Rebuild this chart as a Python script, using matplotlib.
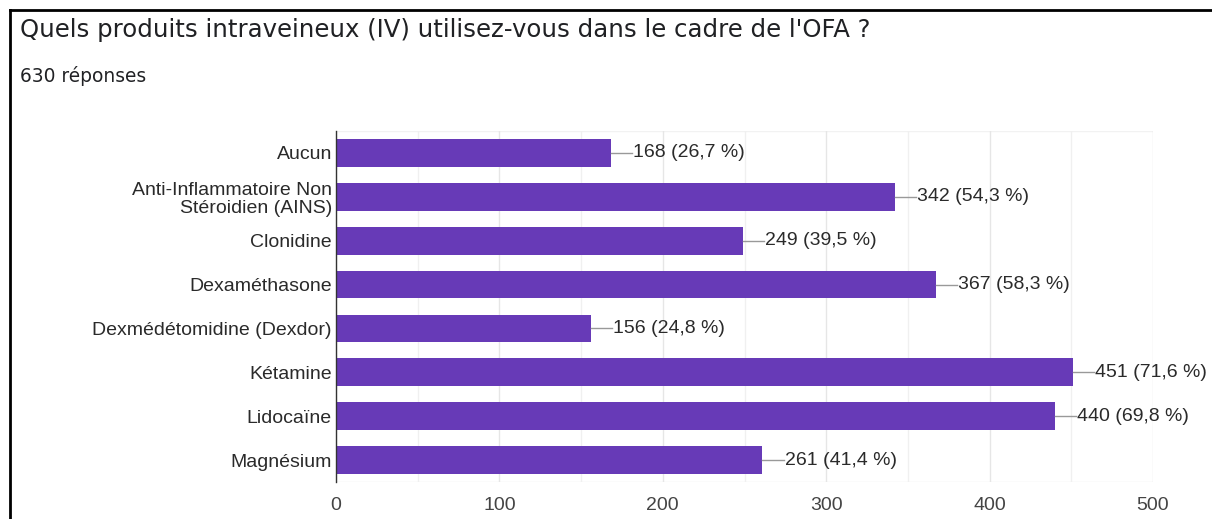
import matplotlib
matplotlib.use("Agg")
import matplotlib.pyplot as plt
import numpy as np

categories = ["Aucun", "Anti-Inflammatoire Non\nStéroidien (AINS)", "Clonidine", "Dexaméthasone",
              "Dexmédétomidine (Dexdor)", "Kétamine", "Lidocaïne", "Magnésium"]
counts = [168, 342, 249, 367, 156, 451, 440, 261]
percents = ["26,7", "54,3", "39,5", "58,3", "24,8", "71,6", "69,8", "41,4"]
xticks = [0, 100, 200, 300, 400, 500]

FS = 14
fig = plt.figure(figsize=(12.12, 5.19), dpi=100)
ax = fig.add_axes([336/1212, 1-482/519, (1153-336)/1212, (482-131)/519])

y = np.arange(len(categories))
ax.barh(y, counts, height=0.63, color="#673ab7", zorder=3)
for yi, c, p in zip(y, counts, percents):
    ax.plot([c, c + 13], [yi, yi], color="#999999", lw=1, zorder=3)
    ax.text(c + 13.5, yi, f"{c} ({p} %)", va="center", ha="left", fontsize=FS,
            color="#2a2a2a", family="Liberation Sans")

ax.set_xlim(0, 500)
ax.set_ylim(len(categories) - 0.5, -0.5)
ax.set_yticks(y)
ax.set_yticklabels(categories, fontsize=FS, color="#2a2a2a", family="Liberation Sans")
for lbl in ax.get_yticklabels():
    lbl.set_linespacing(1.12)
ax.set_xticks(xticks)
ax.set_xticklabels([str(t) for t in xticks], fontsize=FS, color="#444444", family="Liberation Sans")
ax.set_xticks(np.arange(50, 500, 100), minor=True)
ax.tick_params(axis="both", length=0, which="both")
ax.tick_params(axis="x", pad=11)
ax.tick_params(axis="y", pad=3)
ax.grid(axis="x", which="major", color="#e6e6e6", lw=1, zorder=0)
ax.grid(axis="x", which="minor", color="#f0f0f0", lw=1, zorder=0)
for s in ["top", "right", "bottom"]:
    ax.spines[s].set_visible(False)
ax.axhline(len(categories) - 0.5, color="#eeeeee", lw=1, zorder=0)
ax.axhline(-0.5, color="#f2f2f2", lw=1, zorder=0)
ax.spines["left"].set_color("#333333")
ax.spines["left"].set_linewidth(1)
ax.spines["left"].set_zorder(4)

fig.text(20/1212, 1-30/519, "Quels produits intraveineux (IV) utilisez-vous dans le cadre de l'OFA ?",
         fontsize=17.6, color="#202124", family="DejaVu Sans", va="center", ha="left")
fig.text(20/1212, 1-76/519, "630 réponses", fontsize=13.4, color="#202124",
         family="DejaVu Sans", va="center", ha="left")

# frame lines (top and left)
fig.add_artist(plt.Line2D([10/1212, 1], [1-10/519, 1-10/519], color="black", lw=2, transform=fig.transFigure))
fig.add_artist(plt.Line2D([10/1212, 10/1212], [0, 1-10/519], color="black", lw=2, transform=fig.transFigure))

fig.savefig("out.png", dpi=100)
